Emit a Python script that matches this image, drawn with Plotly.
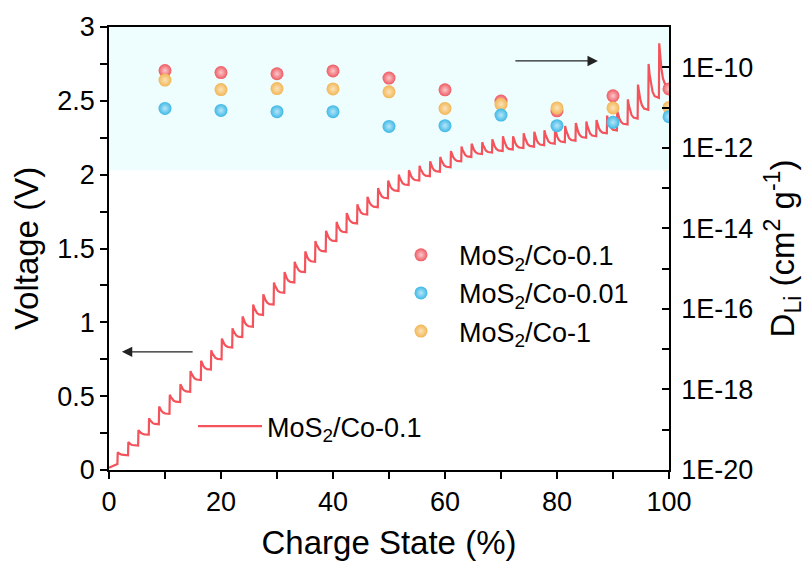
import plotly.graph_objects as go

# ---- GITT charge curve (MoS2/Co-0.1), read pulse by pulse ----
# charge state (%) at which each current pulse starts
pulse_x = [1.5, 3.4, 5.2, 7.1, 8.9, 10.8, 12.7, 14.5, 16.4, 18.2, 20.1, 22.0, 23.8,
           25.7, 27.5, 29.4, 31.3, 33.1, 35.0, 36.8, 38.7, 40.6, 42.4, 44.3, 46.1,
           48.0, 49.8, 51.7, 53.5, 55.4, 57.3, 59.1, 61.0, 62.9, 64.7, 66.6, 68.4,
           70.3, 72.1, 74.0, 75.9, 77.7, 79.6, 81.4, 83.3, 85.2, 87.0, 88.9, 90.7,
           92.6, 94.4, 96.3, 98.2]
# voltage at the top of each pulse (V)
v_peak = [0.12, 0.19, 0.27, 0.35, 0.43, 0.51, 0.58, 0.67, 0.74, 0.81, 0.89, 0.96, 1.04,
          1.12, 1.19, 1.27, 1.34, 1.41, 1.48, 1.55, 1.62, 1.68, 1.74, 1.80, 1.85,
          1.91, 1.96, 2.00, 2.03, 2.06, 2.09, 2.12, 2.16, 2.19, 2.21, 2.22, 2.24,
          2.26, 2.26, 2.28, 2.29, 2.30, 2.31, 2.33, 2.35, 2.36, 2.37, 2.40, 2.43,
          2.51, 2.61, 2.75, 2.89]
# relaxed voltage reached before the next pulse (V)
v_rest = [0.10, 0.165, 0.24, 0.31, 0.38, 0.46, 0.53, 0.61, 0.68, 0.75, 0.83, 0.90, 0.97,
          1.05, 1.12, 1.20, 1.27, 1.34, 1.41, 1.48, 1.55, 1.61, 1.67, 1.73, 1.78,
          1.84, 1.89, 1.93, 1.96, 1.99, 2.02, 2.05, 2.09, 2.12, 2.14, 2.15, 2.16,
          2.17, 2.18, 2.19, 2.20, 2.21, 2.22, 2.23, 2.25, 2.26, 2.28, 2.30, 2.34,
          2.38, 2.44, 2.52, 2.60]
# open-circuit start before the first pulse
start_x = [0.0, 1.5]
start_v = [0.015, 0.04]

# ---- Li-ion diffusion coefficients (cm^2 g^-1) ----
charge_pts = [10, 20, 30, 40, 50, 60, 70, 80, 90, 100]
d_co01 = [8.3e-11, 7.4e-11, 6.9e-11, 8.1e-11, 5.4e-11, 2.75e-11, 1.45e-11, 8.3e-12, 1.95e-11, 2.9e-11]
d_co1 = [4.8e-11, 2.8e-11, 2.95e-11, 2.9e-11, 2.45e-11, 9.5e-12, 1.2e-11, 9.8e-12, 9.8e-12, 1.0e-11]
d_co001 = [9.5e-12, 8.5e-12, 7.9e-12, 7.9e-12, 3.4e-12, 3.55e-12, 6.5e-12, 3.55e-12, 4.3e-12, 5.9e-12]

right_ticks = [10.0 ** e for e in range(-20, -9)]
right_text = ["1E%d" % e if e % 2 == 0 else "" for e in range(-20, -9)]

# sawtooth shape of one pulse: (fraction of period, fraction of pulse height above rest)
PROFILE = [(0.03, 1.0), (0.12, 0.7), (0.25, 0.4), (0.40, 0.18), (0.60, 0.05), (1.0, 0.0)]

cs = list(start_x)
vv = list(start_v)
for i, (x0, pk, rs) in enumerate(zip(pulse_x, v_peak, v_rest)):
    x1 = pulse_x[i + 1] if i + 1 < len(pulse_x) else 100.0
    period = x1 - x0
    for f, g in PROFILE:
        cs.append(x0 + f * period)
        vv.append(rs + g * (pk - rs))

LINE_RED = "#F4535C"
FONT = "Arial, Liberation Sans, sans-serif"

fig = go.Figure()
fig.add_trace(go.Scatter(
    x=cs, y=vv, mode="lines", yaxis="y",
    line=dict(color=LINE_RED, width=2.2),
    name="MoS<sub>2</sub>/Co-0.1", legend="legend2",
))

series = [
    ("MoS<sub>2</sub>/Co-0.1", d_co01, "#EE5A62", "#FBC9CC", 1),
    ("MoS<sub>2</sub>/Co-1", d_co1, "#F2B655", "#FBE3BA", 3),
    ("MoS<sub>2</sub>/Co-0.01", d_co001, "#3DB8E6", "#B8E6F8", 2),
]
for name, vals, col, hi, rank in series:
    fig.add_trace(go.Scatter(
        x=charge_pts, y=vals, mode="markers", yaxis="y2",
        marker=dict(size=13, color=col, gradient=dict(type="radial", color=hi),
                    line=dict(width=0)),
        name=name, legend="legend", legendrank=rank,
    ))

fig.add_shape(type="rect", xref="x", yref="y", x0=0, x1=100, y0=2.03, y1=3,
              fillcolor="#EEFEFE", line=dict(width=0), layer="below")

arrow = dict(showarrow=True, arrowhead=2, arrowsize=1.6, arrowwidth=1.3,
             arrowcolor="#222222", text="", xref="x", yref="y", axref="x", ayref="y")
fig.add_annotation(x=2.3, y=0.80, ax=15.2, ay=0.80, **arrow)
fig.add_annotation(x=87.3, y=2.77, ax=72.3, ay=2.77, **arrow)

tick_common = dict(ticklen=7, tickwidth=1.5, tickcolor="black", showline=True,
                   linecolor="black", linewidth=1.6, showgrid=False, zeroline=False,
                   tickfont=dict(size=27, color="black", family=FONT))

fig.update_layout(
    width=812, height=576,
    margin=dict(l=109, r=143, t=20, b=106),
    paper_bgcolor="white", plot_bgcolor="white",
    font=dict(family=FONT, size=27, color="black"),
    xaxis=dict(range=[0, 100], tickvals=[0, 20, 40, 60, 80, 100], ticks="outside",
               minor=dict(tickvals=[10, 30, 50, 70, 90], ticks="outside", ticklen=7,
                          tickwidth=1.5, tickcolor="black"),
               mirror=True,
               title=dict(text="Charge State (%)", font=dict(size=33), standoff=15),
               **tick_common),
    yaxis=dict(range=[0, 3], tickvals=[0, 0.5, 1, 1.5, 2, 2.5, 3],
               ticktext=["0", "0.5", "1", "1.5", "2", "2.5", "3"], ticks="outside",
               minor=dict(tickvals=[0.25, 0.75, 1.25, 1.75, 2.25, 2.75], ticks="outside",
                          ticklen=7, tickwidth=1.5, tickcolor="black"),
               title=dict(text="Voltage (V)", font=dict(size=33), standoff=9),
               **tick_common),
    yaxis2=dict(overlaying="y", side="right", type="log", range=[-20, -9],
                tickvals=right_ticks, ticktext=right_text, ticks="inside",
                ticklabelstandoff=5,
                title=dict(text="D<sub>Li</sub> (cm<sup>2</sup> g<sup>-1</sup>)",
                           font=dict(size=33), standoff=19),
                **tick_common),
    legend=dict(x=(383 - 109) / 560, y=(469 - 226) / 450, xanchor="left", yanchor="top",
                bgcolor="rgba(0,0,0,0)", borderwidth=0, itemwidth=66,
                font=dict(size=27, family=FONT), tracegroupgap=0),
    legend2=dict(x=(193 - 109) / 560, y=(469 - 400) / 450, xanchor="left", yanchor="top",
                 bgcolor="rgba(0,0,0,0)", borderwidth=0, itemwidth=64,
                 font=dict(size=27, family=FONT)),
)

fig.write_html("out.html")
